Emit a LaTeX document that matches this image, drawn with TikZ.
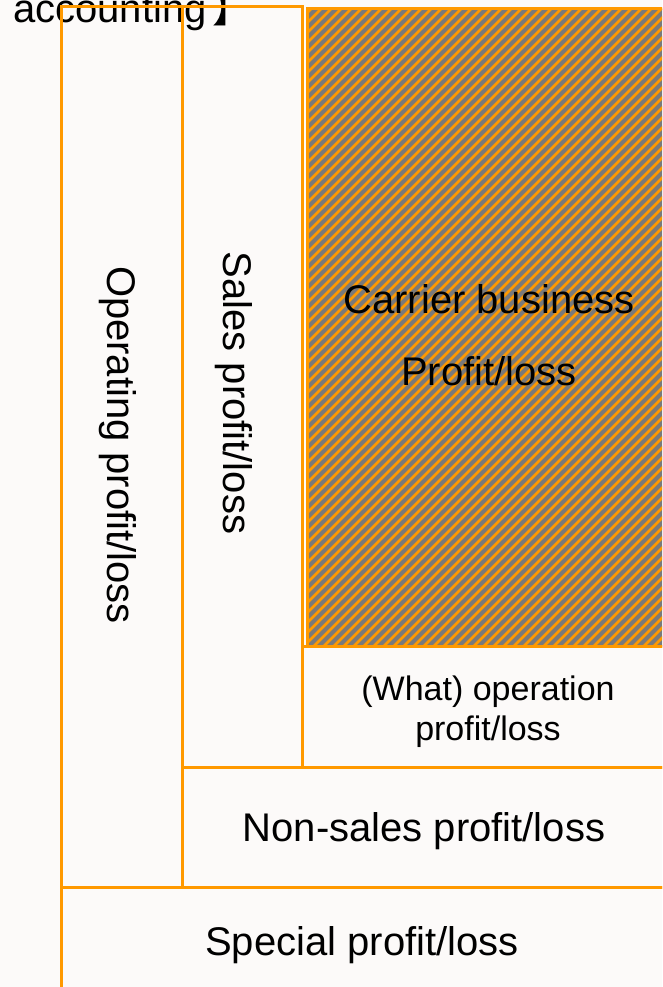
\documentclass[tikz,border=0pt]{standalone}
\usepackage{fontspec}
\setmainfont{Liberation Sans}
\newfontfamily\cjkfont{Noto Sans CJK JP}
\definecolor{boxorange}{RGB}{255,153,0}
\definecolor{hatchgray}{RGB}{122,122,122}
\definecolor{bgtone}{RGB}{252,250,249}
\begin{document}
\begin{tikzpicture}[x=1pt,y=-1pt,
  frame/.style={draw=boxorange,line width=3pt},
  stripe/.style={draw=boxorange,line width=2.5pt},
  big/.style={font=\fontsize{40}{48}\selectfont,inner sep=0pt,text=black},
  small/.style={font=\fontsize{34}{40}\selectfont,inner sep=0pt,text=black}]
\useasboundingbox (0,0) rectangle (662,987);
\clip (0,0) rectangle (662,987);
\fill[bgtone] (0,0) rectangle (662,987);
% hatched carrier area
\fill[hatchgray] (307,9) rectangle (670,646);
\begin{scope}
  \clip (307,9) rectangle (670,646);
  \foreach \c in {310,320,...,1330} \draw[stripe] (\c-660,660) -- (\c,0);
\end{scope}
% title
\node[big,anchor=base west] (title) at (13,23) {accounting\kern6pt{\cjkfont 】}};
% frames
\draw[frame] (61,7) rectangle (182,887);
\draw[frame] (182,7) rectangle (302,767);
\draw[frame] (307,9) rectangle (670,646);
\draw[frame] (302,646) rectangle (670,767);
\draw[frame] (182,767) rectangle (670,887);
\draw[frame] (61,887) rectangle (670,1000);
% labels
\node[big,rotate=-90,anchor=base] (op) at (107,445) {Operating profit/loss};
\node[big,rotate=-90,anchor=base] (sales) at (223,393) {Sales profit/loss};
\node[big,anchor=base] (carrier1) at (489,313) {Carrier business};
\node[big,anchor=base] (carrier2) at (489,385) {Profit/loss};
\node[small,anchor=base] (what1) at (488,700) {(What) operation};
\node[small,anchor=base] (what2) at (488,740) {profit/loss};
\node[big,anchor=base] (nonsales) at (424,841) {Non-sales profit/loss};
\node[big,anchor=base] (special) at (362,955) {Special profit/loss};
\end{tikzpicture}
\end{document}
